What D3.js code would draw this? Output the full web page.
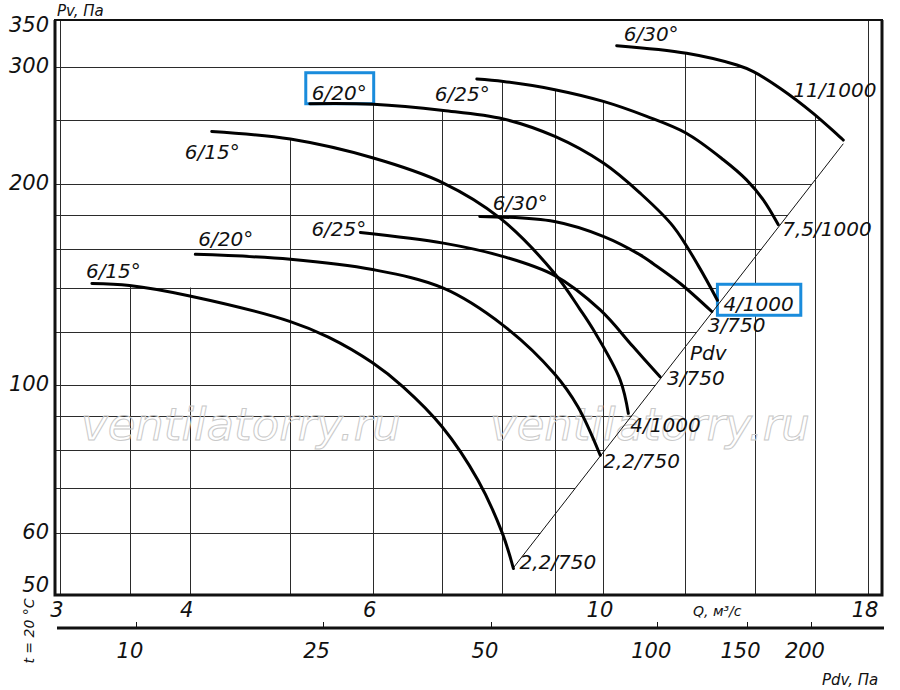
<!DOCTYPE html>
<html>
<head>
<meta charset="utf-8">
<script src="https://cdn.jsdelivr.net/npm/d3@7/dist/d3.min.js"></script>
<style>
  body { margin: 0; background: #fff; }
  text { font-family: "DejaVu Sans", sans-serif; font-style: italic; fill: #111; }
</style>
</head>
<body>
<div id="root"></div>
<script>
// ---- data ----
const qTicks = [3, 4, 6, 10, 18];
const pvTicks = [50, 60, 100, 200, 300, 350];
const qGrid = [3, 3.5, 4, 5, 6, 7, 8, 9, 10, 12, 14, 16, 18];
const pvGrid = [60, 70, 80, 90, 100, 120, 140, 160, 180, 200, 250, 300];

// dynamic pressure scale under the chart: tick value and the Q it sits at
const pdvTicks = [10, 25, 50, 100, 150, 200];
const pdvTickQ = [3.55, 5.37, 7.80, 11.28, 13.75, 15.86];
const pdvK = 0.792;       // Pdv = k * Q^2 (the thin "Pdv" line)
const gridFloorPv = 140;  // vertical grid lines never start above this on the far left

// 750 rpm curves
const q15Low = [3.22, 3.5, 4.0, 5.0, 5.44, 6.0, 6.42, 7.0, 7.58, 8.0, 8.2];
const pv15Low = [142, 141, 136, 124.5, 118, 108, 99.4, 86.6, 72, 60, 53.1];
const q20Low = [4.05, 5.0, 6.0, 7.02, 8.01, 8.98, 9.46, 9.94];
const pv20Low = [157, 154.4, 149, 139.7, 123, 104, 92.8, 78.5];
const q25Low = [5.84, 7.02, 8.02, 8.98, 9.94, 10.69, 11.35];
const pv25Low = [169.3, 163.2, 155.8, 146, 129.6, 114.2, 102.9];
const q30Low = [7.61, 8.98, 10.02, 10.86, 11.18, 11.87, 12.73];
const pv30Low = [178.9, 175.8, 166.9, 156.7, 152, 142, 128.9];

// 1000 rpm curves
const q15High = [4.2, 5.0, 6.01, 7.02, 7.96, 8.98, 9.5, 9.79, 10.39, 10.58];
const pv15High = [239.9, 233.7, 218.9, 200.8, 177.9, 147.1, 130, 121, 101.8, 90.7];
const q20High = [5.22, 6.01, 7.02, 8.02, 8.99, 10.01, 10.86, 11.69, 12.37, 12.89];
const pv20High = [264, 263.5, 258, 250.5, 235.8, 215.1, 193.9, 172.8, 150.5, 134];
const q25High = [7.56, 8.02, 8.99, 10.01, 11.02, 12.02, 13.06, 13.75, 14.27, 14.75];
const pv25High = [287.5, 285.1, 277.1, 266.1, 252.7, 238.6, 217.6, 203, 189.5, 174];
const q30High = [10.31, 12.04, 13.46, 13.96, 14.81, 15.94, 17.04];
const pv30High = [322.5, 314.2, 301.7, 294.9, 278.5, 255.4, 232.9];

const startLabels = ['6/15°', '6/20°', '6/25°', '6/30°', '6/15°', '6/20°', '6/25°', '6/30°'];
const endLabels = ['2,2/750', '2,2/750', '3/750', '3/750', '4/1000', '4/1000', '7,5/1000', '11/1000'];

// ---- layout ----
const width = 900, height = 690;
const frame = { left: 55, right: 882, top: 20, bottom: 595 };
const pdvAxisY = 628;
const boxColor = '#1a8cdc';

// label offsets from the curve start / end point (px)
const startOffset = [[-6, -5], [3, -8], [-49, 4], [13, -7], [-27, 28], [2, -4], [-42, 22], [7, -5]];
const endOffset = [[6, 0], [3, 13], [7, 8], [-4, 20], [2, 19], [6, 11], [4, 11], [-50, -43]];
const boxedCurve = 5;

const curves = [
  [q15Low, pv15Low], [q20Low, pv20Low], [q25Low, pv25Low], [q30Low, pv30Low],
  [q15High, pv15High], [q20High, pv20High], [q25High, pv25High], [q30High, pv30High]
].map(([qs, pvs], i) => ({
  points: qs.map((q, j) => [q, pvs[j]]),
  start: startLabels[i],
  end: endLabels[i]
}));

const x = d3.scaleLog().domain([3, 18]).range([60, 868]);
const y = d3.scaleLog().domain([50, 350]).range([586, 22]);

const svg = d3.select('#root').append('svg')
  .attr('width', width)
  .attr('height', height)
  .attr('viewBox', [0, 0, width, height]);

// interpolate Pv on a curve at flow q, in log space
function pvOnCurve(points, q) {
  if (q < points[0][0] || q > points[points.length - 1][0]) return null;
  for (let i = 1; i < points.length; i++) {
    const [q0, p0] = points[i - 1], [q1, p1] = points[i];
    if (q <= q1) {
      const t = Math.log(q / q0) / Math.log(q1 / q0);
      return Math.exp(Math.log(p0) + t * Math.log(p1 / p0));
    }
  }
  return null;
}

// flow where a falling curve reaches pv
function qOnCurve(points, pv) {
  for (let i = 1; i < points.length; i++) {
    const [q0, p0] = points[i - 1], [q1, p1] = points[i];
    if (pv <= p0 && pv >= p1) {
      const t = Math.log(pv / p0) / Math.log(p1 / p0);
      return Math.exp(Math.log(q0) + t * Math.log(q1 / q0));
    }
  }
  return null;
}

const crisp = v => Math.round(v) + 0.5;

// ---- grid ----
const grid = svg.append('g').attr('stroke', '#2b2b2b').attr('stroke-width', 1);

// vertical lines start at the highest curve above them
qGrid.forEach(q => {
  const covering = curves.map(c => pvOnCurve(c.points, q)).filter(p => p !== null);
  const top = covering.length ? y(Math.max(d3.max(covering), gridFloorPv)) : frame.top;
  grid.append('line')
    .attr('x1', crisp(x(q))).attr('x2', crisp(x(q)))
    .attr('y1', top).attr('y2', frame.bottom);
});

// horizontal lines stop at the top curve or at the Pdv line
const topCurve = curves[7].points;
const topCurveEnd = topCurve[topCurve.length - 1][1];
pvGrid.forEach(pv => {
  const qEnd = pv >= topCurveEnd ? qOnCurve(topCurve, pv) : Math.sqrt(pv / pdvK);
  grid.append('line')
    .attr('x1', frame.left).attr('x2', x(qEnd))
    .attr('y1', crisp(y(pv))).attr('y2', crisp(y(pv)));
});

// ---- frame ----
svg.append('line').attr('x1', frame.left - 1).attr('x2', frame.right + 1)
  .attr('y1', frame.top).attr('y2', frame.top)
  .attr('stroke', '#111').attr('stroke-width', 2);
svg.append('path')
  .attr('d', `M${frame.left},${frame.top} V${frame.bottom} H${frame.right} V${frame.top}`)
  .attr('fill', 'none').attr('stroke', '#111').attr('stroke-width', 3);

// ---- watermark ----
[81, 490].forEach(wx => {
  svg.append('text')
    .attr('x', wx).attr('y', 440)
    .style('font-size', '45px')
    .style('fill', 'none')
    .attr('stroke', '#c9c9c9').attr('stroke-width', 1)
    .text('ventilatorry.ru');
});

// ---- label boxes (white, drawn under the lines) ----
const boxLayer = svg.append('g');

// ---- Pdv line through the curve ends ----
const pdvQ = [q15Low[q15Low.length - 1], q30High[q30High.length - 1]];
svg.append('line')
  .attr('x1', x(pdvQ[0])).attr('y1', y(pdvK * pdvQ[0] * pdvQ[0]))
  .attr('x2', x(pdvQ[1])).attr('y2', y(pdvK * pdvQ[1] * pdvQ[1]))
  .attr('stroke', '#111').attr('stroke-width', 1);

const pdvLabelQ = 11.94;
svg.append('text')
  .attr('x', x(pdvLabelQ) + 7).attr('y', y(pdvK * pdvLabelQ * pdvLabelQ) + 10)
  .style('font-size', '20px')
  .text('Pdv');

// ---- curves ----
const line = d3.line()
  .x(d => x(d[0]))
  .y(d => y(d[1]))
  .curve(d3.curveCatmullRom.alpha(0.5));

svg.append('g').selectAll('path')
  .data(curves)
  .join('path')
  .attr('d', d => line(d.points))
  .attr('fill', 'none')
  .attr('stroke', '#000')
  .attr('stroke-width', 3)
  .attr('stroke-linecap', 'round');

function addLabel(px, py, off, txt, boxed) {
  const tx = px + off[0], ty = py + off[1];
  const t = svg.append('text')
    .attr('x', tx).attr('y', ty)
    .style('font-size', '20px')
    .text(txt);
  if (boxed) {
    const w = t.node().getComputedTextLength();
    boxLayer.append('rect')
      .attr('x', tx - 6).attr('y', ty - 27)
      .attr('width', w + 13).attr('height', 31)
      .attr('fill', '#fff')
      .attr('stroke', boxColor).attr('stroke-width', 3);
  }
}

curves.forEach((c, i) => {
  const s = c.points[0], e = c.points[c.points.length - 1];
  addLabel(x(s[0]), y(s[1]), startOffset[i], c.start, i === boxedCurve);
  addLabel(x(e[0]), y(e[1]), endOffset[i], c.end, i === boxedCurve);
});

// ---- Pv axis labels ----
svg.append('g').selectAll('text')
  .data(pvTicks)
  .join('text')
  .attr('x', 49)
  .attr('y', d => Math.max(y(d), 26))
  .attr('dy', '0.3em')
  .attr('text-anchor', 'end')
  .style('font-size', '21px')
  .text(d => d);

svg.append('text').attr('x', 57).attr('y', 16)
  .style('font-size', '15px').text('Pv, Па');

// ---- Q axis labels ----
svg.append('g').selectAll('text')
  .data(qTicks)
  .join('text')
  .attr('x', d => x(d) - 3)
  .attr('y', 617)
  .attr('text-anchor', 'middle')
  .style('font-size', '21px')
  .text(d => d);

svg.append('text').attr('x', 693).attr('y', 616)
  .style('font-size', '14px').text('Q, м³/с');

// ---- Pdv axis ----
svg.append('line')
  .attr('x1', 57).attr('x2', 884)
  .attr('y1', pdvAxisY).attr('y2', pdvAxisY)
  .attr('stroke', '#111').attr('stroke-width', 3);

const pdvAxis = svg.append('g');
pdvTicks.forEach((v, i) => {
  const px = x(pdvTickQ[i]);
  pdvAxis.append('line')
    .attr('x1', crisp(px)).attr('x2', crisp(px))
    .attr('y1', pdvAxisY - 6).attr('y2', pdvAxisY)
    .attr('stroke', '#111').attr('stroke-width', 1);
  pdvAxis.append('text')
    .attr('x', px - 6).attr('y', 658)
    .attr('text-anchor', 'middle')
    .style('font-size', '21px')
    .text(v);
});

svg.append('text').attr('x', 822).attr('y', 685)
  .style('font-size', '15px').text('Pdv, Па');

svg.append('text')
  .attr('transform', 'translate(34,631) rotate(-90)')
  .attr('text-anchor', 'middle')
  .style('font-size', '14px')
  .text('t = 20 °C');
</script>
</body>
</html>
